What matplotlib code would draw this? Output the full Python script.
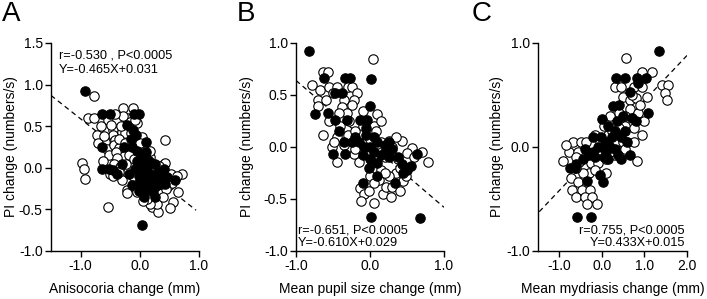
import matplotlib
matplotlib.use("Agg")
import matplotlib.pyplot as plt
import numpy as np

plt.rcParams['font.family'] = ['Liberation Sans', 'DejaVu Sans']

# ---------------- Panel A data ----------------
a_open = [(-0.78,0.86),(-0.87,0.60),(-0.77,0.60),(-0.73,0.40),(-0.98,0.06),(-0.95,-0.02),(-0.93,-0.14),(-0.54,-0.47),
(-0.28,0.72),(-0.11,0.72),(-0.54,0.58),(-0.38,0.58),(-0.22,0.60),(-0.16,0.55),(-0.55,0.46),(-0.45,0.46),
(-0.46,0.40),(-0.30,0.43),(-0.25,0.42),(-0.08,0.37),(-0.05,0.54),(0.04,0.37),(-0.59,0.31),(-0.42,0.34),
(-0.55,0.22),(-0.44,0.28),(-0.35,0.24),(-0.52,0.15),(-0.41,0.19),(-0.38,0.12),(-0.19,0.15),(-0.02,0.24),
(0.17,0.13),(0.18,0.20),(0.10,0.12),(0.43,0.33),(-0.44,0.05),(-0.24,0.05),(-0.33,0.01),(-0.50,-0.07),
(-0.30,-0.15),(-0.21,-0.27),(-0.22,-0.30),(-0.05,-0.29),(-0.07,-0.19),(0.10,-0.23),(0.26,-0.25),(0.49,-0.21),
(0.41,0.05),(0.43,0.06),(0.71,-0.08),(0.55,-0.18),(0.64,-0.29),(0.56,-0.41),(0.51,-0.48),(0.21,-0.47),
(0.31,-0.53),(0.29,-0.43),(0.18,-0.43),(0.12,-0.38),(-0.12,-0.10),(0.33,0.02),(0.52,-0.08),(0.05,0.18),
(-0.62,0.08),(-0.70,0.30),(-0.35,0.35),(-0.15,0.32),(0.22,-0.02),(0.35,-0.30),(0.45,-0.25),(-0.10,0.10),
(-0.65,0.50),(-0.48,0.52),(-0.32,0.50),(-0.60,0.38),(-0.25,0.30),(-0.15,0.42),(0.00,0.30),(0.20,0.05),
(0.30,-0.15),(0.15,-0.15),(-0.35,-0.05),(-0.45,-0.10),(0.62,-0.10),(0.40,-0.35),(0.05,-0.40),(-0.28,0.62),
(-0.42,0.65),(-0.08,0.58)]
a_filled = [(-0.92,0.92),(-0.64,0.65),(-0.51,0.65),(-0.10,0.65),(-0.02,0.65),(-0.21,0.51),(-0.12,0.45),(-0.07,0.39),
(-0.64,0.25),(-0.27,0.25),(-0.13,0.25),(0.10,0.31),(0.10,0.19),(-0.64,-0.01),(-0.52,-0.01),(-0.38,-0.07),
(-0.19,-0.07),(-0.13,-0.21),(0.04,-0.29),(0.07,-0.35),(0.26,-0.35),(0.29,-0.17),(0.46,-0.11),(0.60,-0.15),
(0.03,-0.69),(0.26,0.05),(0.18,-0.07),(0.41,-0.01),(0.00,0.00),(0.05,-0.05),(0.10,-0.12),(0.12,0.02),
(-0.05,0.08),(0.02,0.12),(0.20,-0.20),(0.32,-0.08),(0.35,-0.20),(0.15,-0.25),(-0.02,-0.10),(0.06,0.05),
(0.24,-0.12),(-0.08,-0.02),(0.16,0.08),(0.38,-0.15),(-0.05,0.20),(0.00,-0.18),(0.30,-0.05),(-0.30,0.05),
(-0.15,0.35),(0.08,-0.22),(0.22,-0.28),(0.42,-0.20),(-0.02,-0.28),(0.13,-0.05),(0.28,-0.22),(-0.45,-0.03)]
a_line_x = [-1.5, 0.95]
a_line_y = [0.87, -0.51]

# ---------------- Panel B data ----------------
b_open = [(0.04,0.85),(-0.64,0.72),(-0.57,0.72),(-0.78,0.60),(-0.68,0.55),(-0.70,0.45),(-0.55,0.58),(-0.44,0.58),(-0.30,0.58),(-0.24,0.58),
(-0.18,0.52),(-0.21,0.45),(-0.35,0.45),(-0.70,0.39),(-0.38,0.38),(-0.31,0.33),(-0.42,0.33),(0.10,0.32),(-0.64,0.12),
(-0.45,0.10),(-0.30,0.12),(-0.20,0.15),(-0.10,0.20),(0.05,0.20),(0.08,0.15),(0.15,0.05),(0.25,0.06),(0.30,0.00),(0.43,0.06),(0.57,-0.01),
(0.50,-0.06),(0.79,-0.14),(0.20,-0.10),(0.38,-0.12),(-0.45,-0.14),(-0.15,-0.14),(-0.05,-0.05),(0.03,-0.14),(-0.22,-0.07),
(-0.13,-0.39),(-0.08,-0.45),(-0.12,-0.52),(0.05,-0.54),(0.18,-0.45),(0.22,-0.38),(0.30,-0.38),(0.40,-0.42),(0.45,-0.33),(0.35,-0.25),
(0.12,-0.32),(0.25,-0.28),(0.00,-0.28),(0.15,-0.22),(-0.52,0.00),(-0.35,0.02),(0.10,0.03),(-0.28,0.25),(0.00,0.08),(0.48,-0.28),(0.20,-0.25),
(-0.50,0.52),(-0.60,0.45),(-0.25,0.40),(-0.10,0.35),(0.15,0.25),(-0.40,0.20),(-0.55,0.25),(-0.20,-0.02),(0.35,0.10),(0.60,-0.10),
(0.70,-0.05),(0.40,-0.20),(0.05,-0.35),(0.28,-0.48),(-0.02,-0.42),(-0.48,0.05)]
b_filled = [(-0.82,0.92),(0.01,0.65),(-0.62,0.66),(-0.34,0.66),(-0.27,0.66),(-0.47,0.52),(-0.38,0.52),(0.00,0.39),(-0.74,0.32),(-0.57,0.33),
(-0.47,0.26),(-0.31,0.26),(-0.14,0.26),(-0.04,0.26),(-0.50,-0.07),(-0.34,-0.07),(0.10,-0.15),(-0.35,0.05),(-0.25,0.05),(-0.15,0.05),
(-0.08,0.00),(0.00,0.00),(0.05,-0.05),(0.10,0.05),(-0.05,0.12),(0.20,0.02),(0.30,-0.02),(0.15,-0.08),(-0.10,-0.08),(0.00,-0.12),
(0.43,-0.16),(0.48,-0.20),(0.55,-0.18),(0.50,-0.22),(0.64,-0.07),(0.10,-0.28),(-0.10,-0.35),(0.34,-0.35),(0.01,-0.67),(0.68,-0.68),
(-0.05,0.18),(0.25,-0.10),(-0.42,0.15),(-0.20,0.10),(0.05,0.10),(0.20,-0.05),(0.38,-0.10),(0.45,-0.25),(-0.02,-0.20),(0.25,0.05)]
b_line_x = [-1.0, 1.0]
b_line_y = [0.64, -0.58]

# ---------------- Panel C data ----------------
c_open = [(0.57,0.86),(0.95,0.72),(1.18,0.72),(0.30,0.58),(0.45,0.58),(0.75,0.58),(0.95,0.58),(1.42,0.60),(1.56,0.60),(1.49,0.52),(1.53,0.45),
(0.50,0.48),(0.65,0.45),(0.80,0.47),(1.05,0.48),(0.40,0.33),(0.65,0.37),(0.85,0.33),(0.95,0.12),(0.55,0.20),(0.75,0.18),(0.40,0.18),
(0.15,0.12),(0.25,0.15),(-0.15,0.12),(0.05,0.20),(0.60,0.05),(0.83,-0.13),(0.45,-0.05),(0.30,-0.08),(-0.91,-0.13),(-0.78,-0.05),
(-0.68,0.05),(-0.50,0.05),(-0.38,0.05),(-0.55,-0.05),(-0.40,-0.10),(-0.25,-0.15),(-0.10,-0.15),(0.10,-0.12),
(-0.72,-0.30),(-0.56,-0.34),(-0.70,-0.41),(-0.47,-0.41),(-0.28,-0.41),(-0.61,-0.48),(-0.40,-0.48),(-0.22,-0.48),(-0.12,-0.55),
(-0.30,-0.25),(-0.15,-0.22),(0.20,-0.05),(-0.05,0.05),(0.35,0.05),
(0.55,0.30),(0.70,0.50),(0.90,0.40),(0.20,0.30),(0.50,0.05),(0.75,0.05),(-0.60,-0.10),(-0.85,0.02),(-0.45,-0.25),(-0.60,-0.20),
(0.10,-0.25),(-0.35,-0.55),(0.55,-0.02),(1.00,0.25)]
c_filled = [(1.35,0.92),(0.34,0.66),(0.55,0.66),(0.82,0.66),(1.04,0.66),(0.66,0.53),(1.09,0.33),(0.26,0.39),(0.71,0.28),(0.80,0.25),(0.0,0.27),
(0.35,0.25),(0.15,0.20),(0.25,0.10),(-0.02,0.10),(0.10,0.05),(-0.10,0.0),(0.0,0.0),(0.10,-0.05),(0.20,0.0),(-0.20,-0.05),(-0.30,-0.08),
(0.45,0.10),(0.60,0.05),(0.65,-0.08),(0.38,-0.08),(-0.45,-0.12),(-0.60,-0.16),(-0.75,-0.20),(-0.63,-0.20),(-0.35,-0.33),(-0.05,-0.27),
(0.02,-0.34),(-0.58,-0.67),(-0.25,-0.67),(0.05,-0.10),(-0.15,-0.10),(0.30,-0.02),(0.50,0.30),
(0.40,0.40),(0.55,0.15),(-0.40,-0.02),(0.15,-0.12),(0.30,0.15),(-0.20,0.10),(0.85,0.62),(0.45,-0.12)]
c_line_x = [-1.47, 2.0]
c_line_y = [-0.622, 0.88]

panel_letters = ["A", "B", "C"]
x_labels = ["Anisocoria change (mm)", "Mean pupil size change (mm)", "Mean mydriasis change (mm)"]
y_label = "PI change (numbers/s)"
stat_texts = [["r=-0.530 , P<0.0005", "Y=-0.465X+0.031"],
              ["r=-0.651, P<0.0005", "Y=-0.610X+0.029"],
              ["r=0.755, P<0.0005", "Y=0.433X+0.015"]]

fig = plt.figure(figsize=(7.07, 2.99), dpi=100)
W, H = 707, 299

def axes_px(l, r, t, b):
    return fig.add_axes([l / W, (H - b) / H, (r - l) / W, (b - t) / H])

axA = axes_px(51, 199, 43, 251)
axB = axes_px(296, 444, 43, 251)
axC = axes_px(538, 687, 43, 251)

panels = [
    (axA, a_open, a_filled, a_line_x, a_line_y, (-1.5, 1.0), (-1.0, 1.5), [-1.0, 0.0, 1.0], [-1.0, -0.5, 0.0, 0.5, 1.0, 1.5]),
    (axB, b_open, b_filled, b_line_x, b_line_y, (-1.0, 1.0), (-1.0, 1.0), [-1.0, 0.0, 1.0], [-1.0, -0.5, 0.0, 0.5, 1.0]),
    (axC, c_open, c_filled, c_line_x, c_line_y, (-1.5, 2.0), (-1.0, 1.0), [-1.0, 0.0, 1.0, 2.0], [-1.0, 0.0, 1.0]),
]

for i, (ax, op, fi, lx, ly, xl, yl, xt, yt) in enumerate(panels):
    ax.plot(lx, ly, color='black', lw=0.9, ls=(0, (4, 3)), zorder=1)
    ox, oy = zip(*op)
    fx, fy = zip(*fi)
    ax.scatter(ox, oy, s=46, facecolor='white', edgecolor='black', linewidth=0.8, zorder=2, clip_on=False)
    ax.scatter(fx, fy, s=46, facecolor='black', edgecolor='black', linewidth=0.8, zorder=3, clip_on=False)
    ax.set_xlim(*xl)
    ax.set_ylim(*yl)
    ax.set_xticks(xt)
    ax.set_yticks(yt)
    ax.set_xticklabels([f"{v:.1f}" for v in xt])
    ax.set_yticklabels([f"{v:.1f}" for v in yt])
    for s in ['top', 'right']:
        ax.spines[s].set_visible(False)
    for s in ['left', 'bottom']:
        ax.spines[s].set_linewidth(1.0)
    ax.tick_params(direction='out', length=4, width=1.0, labelsize=10, pad=2)
    ax.set_xlabel(x_labels[i], fontsize=10)
    ax.set_ylabel(y_label, fontsize=10)

for ax in (axA, axB, axC):
    ax.xaxis.set_label_coords(0.5, -0.150)
axA.yaxis.set_label_coords(-0.225, 0.5)
axB.yaxis.set_label_coords(-0.285, 0.5)
axC.yaxis.set_label_coords(-0.230, 0.5)

# statistics text
fs = 9.2
axA.text(0.054, 0.942, stat_texts[0][0], transform=axA.transAxes, fontsize=fs, va='center', ha='left')
axA.text(0.054, 0.870, stat_texts[0][1], transform=axA.transAxes, fontsize=fs, va='center', ha='left')
axB.text(0.014, 0.100, stat_texts[1][0], transform=axB.transAxes, fontsize=fs, va='center', ha='left')
axB.text(0.014, 0.040, stat_texts[1][1], transform=axB.transAxes, fontsize=fs, va='center', ha='left')
axC.text(0.987, 0.100, stat_texts[2][0], transform=axC.transAxes, fontsize=fs, va='center', ha='right')
axC.text(0.987, 0.040, stat_texts[2][1], transform=axC.transAxes, fontsize=fs, va='center', ha='right')

# panel letters
for lx_px, letter in zip([2, 237, 472], panel_letters):
    fig.text(lx_px / W, 1 - 1 / H, letter, fontsize=20, ha='left', va='top')

fig.savefig("out.png", dpi=100)
